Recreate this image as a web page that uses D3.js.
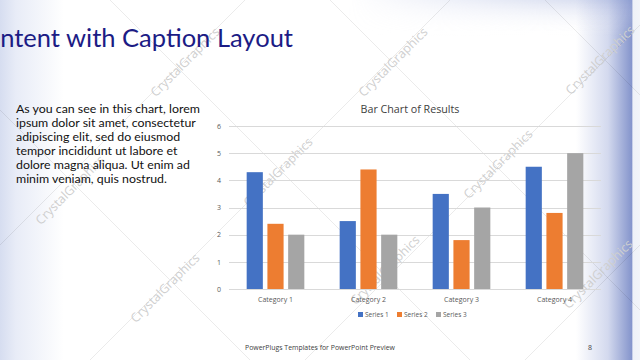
<!DOCTYPE html>
<html><head><meta charset="utf-8">
<script src="https://cdn.jsdelivr.net/npm/d3@7"></script>
<style>html,body{margin:0;padding:0;background:#fff;}svg{display:block;}</style>
</head><body>
<svg id="c" width="640" height="360"></svg>
<script>
const categories = ["Category 1", "Category 2", "Category 3", "Category 4"];
const seriesNames = ["Series 1", "Series 2", "Series 3"];
const series1 = [4.3, 2.5, 3.5, 4.5];
const series2 = [2.4, 4.4, 1.8, 2.8];
const series3 = [2, 2, 3, 5];
const yTicks = [0, 1, 2, 3, 4, 5, 6];
const colors = ["#4472C4", "#ED7D31", "#A5A5A5"];
const chartTitle = "Bar Chart of Results";
const slideTitle = "ntent with Caption Layout";
const bodyLines = [
  "As you can see in this chart, lorem",
  "ipsum dolor sit amet, consectetur",
  "adipiscing elit, sed do eiusmod",
  "tempor incididunt ut labore et",
  "dolore magna aliqua. Ut enim ad",
  "minim veniam, quis nostrud."
];
const footer = "PowerPlugs Templates for PowerPoint  Preview";
const pageNum = "8";
const watermark = "CrystalGraphics";

const allSeries = [series1, series2, series3];
const svg = d3.select("#c");
const W = 640, H = 360;
const font = "'Open Sans', 'Noto Sans', sans-serif";
const bodyFont = "Lato, 'Open Sans', sans-serif";

// background
const defs = svg.append("defs");
const g1 = defs.append("linearGradient").attr("id", "bgH").attr("x1", 0).attr("x2", 1).attr("y1", 0).attr("y2", 0);
[[0, "#d6ddf0"], [0.025, "#e8ecf7"], [0.1, "#ffffff"], [0.9, "#ffffff"], [0.95, "#d3d9ee"], [0.987, "#8595cc"], [0.989, "#eef1f8"], [1, "#f2f4f9"]]
  .forEach(([o, c]) => g1.append("stop").attr("offset", o).attr("stop-color", c));
svg.append("rect").attr("width", W).attr("height", H).attr("fill", "url(#bgH)");
const g2 = defs.append("linearGradient").attr("id", "bgT").attr("x1", 0).attr("x2", 0).attr("y1", 0).attr("y2", 1);
[[0, "#9aa8d8", 0.45], [1, "#ffffff", 0]].forEach(([o, c, a]) => g2.append("stop").attr("offset", o).attr("stop-color", c).attr("stop-opacity", a));
const g3 = defs.append("linearGradient").attr("id", "bgTm").attr("x1", 0).attr("x2", 1).attr("y1", 0).attr("y2", 0);
[[0, 0], [0.55, 0], [1, 1]].forEach(([o, a]) => g3.append("stop").attr("offset", o).attr("stop-color", "#fff").attr("stop-opacity", a));
const mask = defs.append("mask").attr("id", "mT");
mask.append("rect").attr("width", 632).attr("height", 36).attr("fill", "url(#bgTm)");
svg.append("rect").attr("width", 632).attr("height", 36).attr("fill", "url(#bgT)").attr("mask", "url(#mT)");

// watermark diagonal lines
const wl = svg.append("g").attr("stroke", "#000").attr("stroke-opacity", 0.08).attr("stroke-width", 1);
[-110, 110, 330, 545].forEach(d => wl.append("line").attr("x1", d - 400).attr("y1", -400).attr("x2", d + 800).attr("y2", 800));
[245, 450, 665, 885].forEach(s => wl.append("line").attr("x1", s + 400).attr("y1", -400).attr("x2", s - 800).attr("y2", 800));
const wmPos = [[185, 62], [393, 62], [600, 60], [70, 190], [278, 172], [498, 164], [165, 288], [385, 270], [598, 274]];
svg.append("g").selectAll("text").data(wmPos).join("text")
  .attr("transform", d => `translate(${d[0]},${d[1]}) rotate(-45)`)
  .attr("text-anchor", "middle").attr("dy", "0.35em")
  .attr("font-family", font).attr("font-size", 12.5).attr("fill", "#cfcfcf")
  .text(watermark);

function fit(sel, target) {
  const node = sel.node();
  const fs = parseFloat(sel.attr("font-size"));
  const w = node.getComputedTextLength();
  sel.attr("font-size", fs * target / w);
}

// slide title
const st = svg.append("text").attr("x", 293).attr("y", 47).attr("text-anchor", "end")
  .attr("font-family", bodyFont).attr("font-size", 28).attr("fill", "#1c1c85").text(slideTitle);
fit(st, 293);

// body text
const bt = svg.append("g").attr("font-family", bodyFont).attr("fill", "#111");
bodyLines.forEach((l, i) => {
  bt.append("text").attr("x", 16).attr("y", 112.5 + i * 14.1).attr("font-size", 12).text(l);
});
fit(bt.select("text"), 184);
const bfs = bt.select("text").attr("font-size");
bt.selectAll("text").attr("font-size", bfs);

// chart
const y = d3.scaleLinear().domain([0, 6]).range([289, 126]);
const x0 = d3.scaleBand().domain(categories).range([229, 601]).paddingInner(0.38).paddingOuter(0.19);
const x1 = d3.scaleBand().domain(seriesNames).range([0, x0.bandwidth()]).paddingInner(0.22);

const grid = svg.append("g");
grid.selectAll("line").data(yTicks).join("line")
  .attr("x1", 229).attr("x2", 601).attr("y1", d => Math.round(y(d)) + 0.5).attr("y2", d => Math.round(y(d)) + 0.5)
  .attr("stroke", "#d9d9d9").attr("stroke-width", 1);

const yAxis = svg.append("g").attr("transform", "translate(229,0)")
  .call(d3.axisLeft(y).tickValues(yTicks).tickSize(0).tickPadding(8).tickFormat(d3.format("d")));
yAxis.select(".domain").remove();
yAxis.selectAll("text").attr("font-family", font).attr("font-size", 7).attr("fill", "#595959");

const groups = svg.append("g").selectAll("g").data(categories).join("g")
  .attr("transform", d => `translate(${x0(d)},0)`);
groups.selectAll("rect").data((c, ci) => seriesNames.map((s, si) => ({ s, si, v: allSeries[si][ci] }))).join("rect")
  .attr("x", d => x1(d.s)).attr("width", x1.bandwidth())
  .attr("y", d => y(d.v)).attr("height", d => y(0) - y(d.v))
  .attr("fill", d => colors[d.si]);

const xAxis = svg.append("g").attr("transform", "translate(0,289)")
  .call(d3.axisBottom(x0).tickSize(0).tickPadding(8));
xAxis.select(".domain").remove();
xAxis.selectAll("text").attr("font-family", font).attr("font-size", 7).attr("fill", "#595959");

const ct = svg.append("text").attr("x", 410).attr("y", 113).attr("text-anchor", "middle")
  .attr("font-family", font).attr("font-size", 10).attr("fill", "#404040").text(chartTitle);
fit(ct, 99);

// legend
const lx = [358, 397, 436];
const lg = svg.append("g").selectAll("g").data(seriesNames).join("g")
  .attr("transform", (d, i) => `translate(${lx[i]},312)`);
lg.append("rect").attr("width", 5).attr("height", 5).attr("fill", (d, i) => colors[i]);
lg.append("text").attr("x", 7).attr("y", 5).attr("font-family", font).attr("font-size", 6.5).attr("fill", "#595959").text(d => d);

// footer
const ft = svg.append("text").attr("x", 245).attr("y", 350).attr("font-family", font).attr("font-size", 7).attr("fill", "#404040").text(footer);
fit(ft, 150);
svg.append("text").attr("x", 590).attr("y", 350).attr("text-anchor", "middle").attr("font-family", font).attr("font-size", 7).attr("fill", "#404040").text(pageNum);
</script>
</body></html>
